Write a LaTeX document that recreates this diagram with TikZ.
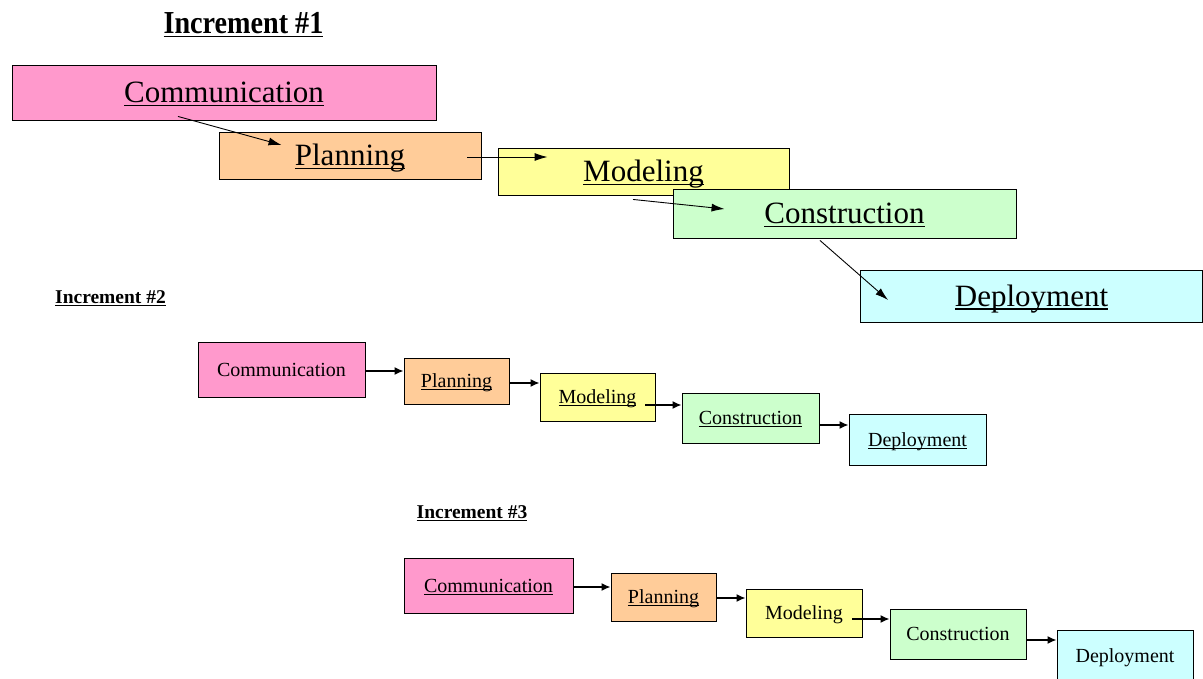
\documentclass[tikz,border=0pt]{standalone}
\usepackage{fontspec}
\setmainfont{Liberation Serif}
\usetikzlibrary{arrows.meta,shadows}
% underline at a fixed distance below the baseline
\newcommand\ulin[1]{\leavevmode\setbox0\hbox{#1}\rlap{\rule[-0.12em]{\wd0}{0.05em}}\box0}
\definecolor{commc}{HTML}{FF99CC}
\definecolor{planc}{HTML}{FFCC99}
\definecolor{modc}{HTML}{FFFF99}
\definecolor{consc}{HTML}{CCFFCC}
\definecolor{depc}{HTML}{CCFFFF}
\begin{document}
\begin{tikzpicture}[x=1pt,y=-1pt,
  stage/.style={draw=black, line width=0.9pt, inner sep=0pt, text depth=0pt,
    drop shadow={shadow xshift=1pt, shadow yshift=-1.2pt, fill=black, opacity=0.9}},
  bigstage/.style={stage, font=\fontsize{31}{31}\selectfont, text height=20.5pt},
  smallstage/.style={stage, font=\fontsize{20}{20}\selectfont, text height=13.2pt},
  title/.style={font=\bfseries\fontsize{#1}{#1}\selectfont, inner sep=0pt},
  arrbig/.style={line width=0.9pt, -{Latex[length=13pt,width=8pt]}},
  arrsmall/.style={line width=1.6pt, -{Latex[length=9pt,width=8pt]}}]
\useasboundingbox (0,0) rectangle (1203,679);

% ---- Increment 1
\node[title=32, xscale=0.88] (t1) at (243.5,25) {\ulin{Increment \#1}};
\node[bigstage, fill=commc, minimum width=424pt, minimum height=55pt] (c1) at (224,92.5) {\ulin{Communication}};
\node[bigstage, fill=planc, minimum width=262pt, minimum height=47pt] (p1) at (350,155.5) {\ulin{Planning}};
\node[bigstage, fill=modc, minimum width=291pt, minimum height=47pt] (m1) at (643.5,171.5) {\ulin{Modeling}};
\node[bigstage, fill=consc, minimum width=343pt, minimum height=49pt] (k1) at (844.5,213.5) {\ulin{Construction}};
\node[bigstage, fill=depc, minimum width=342pt, minimum height=52pt] (d1) at (1031.5,296) {\ulin{Deployment}};

\draw[arrbig] ([xshift=-46pt,yshift=4pt]c1.south) -- ([xshift=63pt,yshift=10.5pt]p1.west);
\draw[arrbig] ([xshift=-14pt,yshift=-1.5pt]p1.east) -- ([xshift=50pt,yshift=14.5pt]m1.west);
\draw[arrbig] ([xshift=-10.5pt,yshift=-4pt]m1.south) -- ([xshift=52pt,yshift=4.5pt]k1.west);
\draw[arrbig] ([xshift=-24.5pt,yshift=-2pt]k1.south) -- ([xshift=28pt,yshift=-4pt]d1.west);

% ---- Increment 2
\node[title=19.5] (t2) at (110.5,298.5) {\ulin{Increment \#2}};
\node[smallstage, fill=commc, minimum width=167pt, minimum height=55pt] (c2) at (281.5,369.5) {Communication};
\node[smallstage, fill=planc, minimum width=105pt, minimum height=46pt] (p2) at (456.5,381) {\ulin{Planning}};
\node[smallstage, fill=modc, minimum width=115pt, minimum height=48pt] (m2) at (597.5,397) {\ulin{Modeling}};
\node[smallstage, fill=consc, minimum width=137pt, minimum height=50pt] (k2) at (750.5,418) {\ulin{Construction}};
\node[smallstage, fill=depc, minimum width=137pt, minimum height=51pt] (d2) at (917.5,439.5) {\ulin{Deployment}};

\coordinate (a21) at ([yshift=-1.5pt]c2.east);
\coordinate (a22) at ([yshift=-2pt]p2.east);
\coordinate (a23) at ([xshift=-10pt,yshift=-8pt]m2.east);
\coordinate (a24) at ([yshift=-7pt]k2.east);
\draw[arrsmall] (a21) -- (a21 -| p2.west);
\draw[arrsmall] (a22) -- (a22 -| m2.west);
\draw[arrsmall] (a23) -- (a23 -| k2.west);
\draw[arrsmall] (a24) -- (a24 -| d2.west);

% ---- Increment 3
\node[title=19.5] (t3) at (472,513) {\ulin{Increment \#3}};
\node[smallstage, fill=commc, minimum width=169pt, minimum height=55pt] (c3) at (488.5,585.5) {\ulin{Communication}};
\node[smallstage, fill=planc, minimum width=105pt, minimum height=48pt] (p3) at (663.5,597) {\ulin{Planning}};
\node[smallstage, fill=modc, minimum width=116pt, minimum height=48pt] (m3) at (804,613) {Modeling};
\node[smallstage, fill=consc, minimum width=136pt, minimum height=50pt] (k3) at (958,634) {Construction};
\node[smallstage, fill=depc, minimum width=136pt, minimum height=52pt] (d3) at (1125,656) {Deployment};

\coordinate (a31) at ([yshift=-1.5pt]c3.east);
\coordinate (a32) at ([yshift=-1pt]p3.east);
\coordinate (a33) at ([xshift=-10pt,yshift=-6pt]m3.east);
\coordinate (a34) at ([yshift=-6pt]k3.east);
\draw[arrsmall] (a31) -- (a31 -| p3.west);
\draw[arrsmall] (a32) -- (a32 -| m3.west);
\draw[arrsmall] (a33) -- (a33 -| k3.west);
\draw[arrsmall] (a34) -- (a34 -| d3.west);
\end{tikzpicture}
\end{document}
